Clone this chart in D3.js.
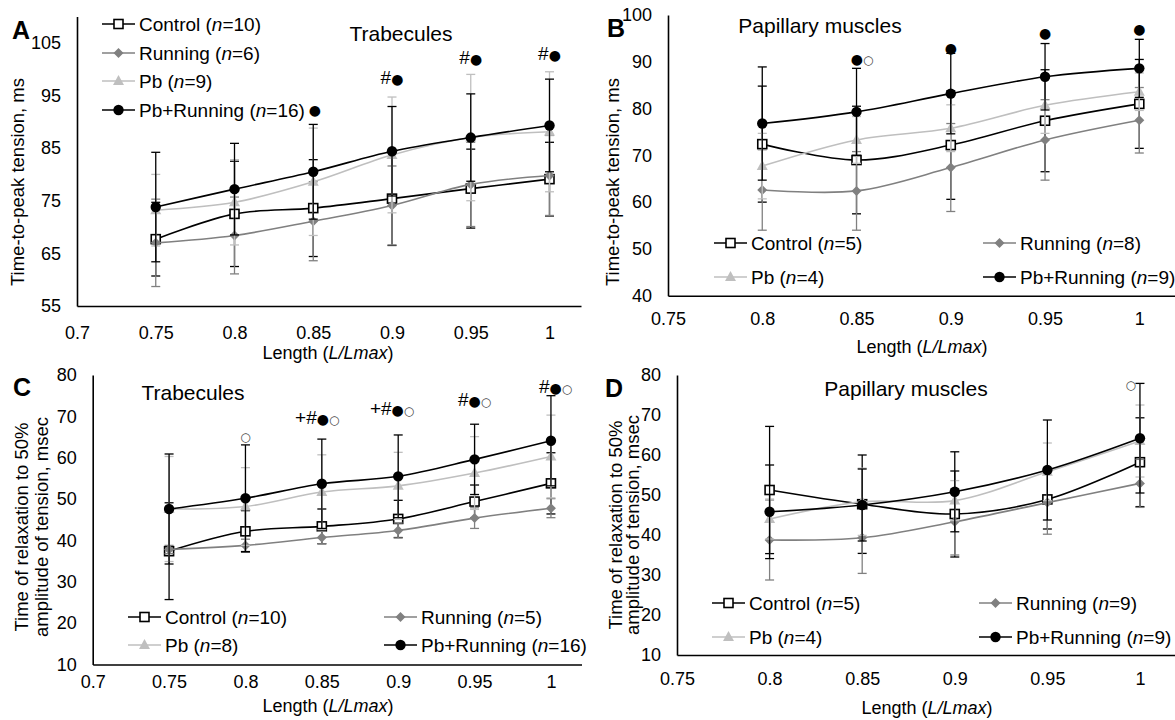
<!DOCTYPE html>
<html>
<head>
<meta charset="utf-8">
<script src="https://cdnjs.cloudflare.com/ajax/libs/d3/7.8.5/d3.min.js"></script>
<style>
  body { margin: 0; background: #fff; }
  text { font-family: "Liberation Sans", Arial, sans-serif; fill: #000; }
</style>
</head>
<body>
<script>
// ---- data ----
const lengthsTrab = [0.75, 0.8, 0.85, 0.9, 0.95, 1];
const lengthsPap = [0.8, 0.85, 0.9, 0.95, 1];
const trabXTicks = [0.7, 0.75, 0.8, 0.85, 0.9, 0.95, 1];
const papXTicks = [0.75, 0.8, 0.85, 0.9, 0.95, 1];
const aYTicks = [55, 65, 75, 85, 95, 105];
const bYTicks = [40, 50, 60, 70, 80, 90, 100];
const cdYTicks = [10, 20, 30, 40, 50, 60, 70, 80];

const groupNames = ["Control", "Running", "Pb", "Pb+Running"];

// A: time-to-peak tension, trabecules
const aN = [10, 6, 9, 16];
const aControl = [67.7, 72.5, 73.6, 75.4, 77.3, 79.1];
const aControlErr = [7.0, 10.0, 9.2, 8.9, 7.5, 7.0];
const aRunning = [67.0, 68.4, 71.1, 74.1, 78.1, 79.8];
const aRunningErr = [8.3, 7.3, 7.5, 7.5, 8.0, 7.6];
const aPb = [73.2, 74.7, 78.6, 83.7, 87.0, 88.1];
const aPbErr = [6.8, 8.1, 10.2, 11.0, 12.0, 11.4];
const aPbRun = [73.8, 77.2, 80.5, 84.4, 87.0, 89.3];
const aPbRunErr = [10.4, 8.7, 9.0, 8.5, 8.3, 8.8];
const aMarks = [[0.851, 92.6, "●"], [0.9, 98.5, "#●"], [0.95, 102.2, "#●"], [1, 103, "#●"]];

// B: time-to-peak tension, papillary muscles
const bN = [5, 8, 4, 9];
const bControl = [72.4, 69.0, 72.2, 77.4, 81.0];
const bControlErr = [12.4, 11.5, 11.6, 10.9, 9.5];
const bRunning = [62.6, 62.4, 67.4, 73.3, 77.5];
const bRunningErr = [8.6, 8.4, 9.4, 8.6, 7.0];
const bPb = [67.7, 73.3, 75.8, 80.7, 83.6];
const bPbErr = [7.0, 5.0, 5.0, 6.0, 4.0];
const bPbRun = [76.8, 79.3, 83.2, 86.8, 88.6];
const bPbRunErr = [12.1, 9.3, 8.6, 7.1, 6.2];
const bMarks = [[0.853, 90.9, "●○"], [0.9, 93.4, "●"], [0.95, 96.6, "●"], [1, 97.5, "●"]];

// C: relaxation to 50%, trabecules
const cN = [10, 5, 8, 16];
const cControl = [37.4, 42.2, 43.4, 45.2, 49.4, 53.8];
const cControlErr = [11.7, 5.0, 4.2, 4.5, 4.0, 7.4];
const cRunning = [37.8, 38.8, 40.7, 42.4, 45.4, 47.8];
const cRunningErr = [1.0, 1.5, 1.5, 1.8, 2.5, 2.3];
const cPb = [47.6, 48.2, 51.7, 53.2, 56.3, 60.3];
const cPbErr = [12.7, 9.4, 9.0, 8.1, 8.8, 10.0];
const cPbRun = [47.6, 50.2, 53.7, 55.5, 59.6, 64.1];
const cPbRunErr = [13.3, 12.9, 10.8, 10.0, 8.5, 10.9];
const cMarks = [[0.8, 65.8, "○"], [0.847, 69.9, "+#●○"], [0.896, 71.9, "+#●○"], [0.95, 74.2, "#●○"], [1.003, 77.4, "#●○"]];

// D: relaxation to 50%, papillary muscles
const dN = [5, 9, 4, 9];
const dControl = [51.25, 47.7, 45.25, 48.9, 58.2];
const dControlErr = [15.9, 12.3, 10.75, 7.4, 11.1];
const dRunning = [38.75, 39.3, 43.3, 48.1, 52.9];
const dRunningErr = [10.0, 8.9, 8.3, 7.9, 6.0];
const dPb = [44.0, 48.3, 48.6, 55.8, 63.5];
const dPbErr = [5.0, 8.4, 5.0, 7.2, 9.0];
const dPbRun = [45.8, 47.5, 50.8, 56.25, 64.2];
const dPbRunErr = [11.7, 9.0, 10.0, 12.5, 13.7];
const dMarks = [[0.995, 78.3, "○"]];

// ---- styles ----
const seriesStyle = [
  { color: "#000", fill: "#fff", shape: "square" },
  { color: "#808080", fill: "#808080", shape: "diamond" },
  { color: "#bfbfbf", fill: "#bfbfbf", shape: "triangle" },
  { color: "#000", fill: "#000", shape: "circle" }
];

const panels = [
  { letter: "A", letterPos: [21, 30], title: "Trabecules", titlePos: [401, 33],
    xs: lengthsTrab, xDomain: [0.7, 1.02], xRange: [77, 581], xTicks: trabXTicks, xPad: 20,
    yDomain: [55, 110], yRange: [306, 16.5], yTicks: aYTicks,
    yTitle: ["Time-to-peak tension, ms"], yTitleX: [17], yTitleY: 182, xTitlePos: [328, 353],
    n: aN, means: [aControl, aRunning, aPb, aPbRun], errs: [aControlErr, aRunningErr, aPbErr, aPbRunErr],
    legend: [[102, 24], [102, 53], [102, 81], [102, 110]], marks: aMarks },
  { letter: "B", letterPos: [616, 28], title: "Papillary muscles", titlePos: [820, 25],
    xs: lengthsPap, xDomain: [0.75, 1.02], xRange: [668, 1177], xTicks: papXTicks, xPad: 17,
    yDomain: [40, 100], yRange: [295.7, 15], yTicks: bYTicks,
    yTitle: ["Time-to-peak tension, ms"], yTitleX: [612], yTitleY: 182, xTitlePos: [922, 347],
    n: bN, means: [bControl, bRunning, bPb, bPbRun], errs: [bControlErr, bRunningErr, bPbErr, bPbRunErr],
    legend: [[714, 243], [983, 243], [714, 277], [983, 277]], marks: bMarks },
  { letter: "C", letterPos: [22, 387], title: "Trabecules", titlePos: [193, 392],
    xs: lengthsTrab, xDomain: [0.7, 1.02], xRange: [92.7, 581.5], xTicks: trabXTicks, xPad: 11,
    yDomain: [10, 80], yRange: [664.5, 375], yTicks: cdYTicks,
    yTitle: ["Time of relaxation to 50%", "amplitude  of tension, msec"], yTitleX: [21, 41], yTitleY: 527, xTitlePos: [328, 706],
    n: cN, means: [cControl, cRunning, cPb, cPbRun], errs: [cControlErr, cRunningErr, cPbErr, cPbRunErr],
    legend: [[128, 617], [384, 617], [128, 645], [384, 645]], marks: cMarks },
  { letter: "D", letterPos: [614, 388], title: "Papillary muscles", titlePos: [906, 388],
    xs: lengthsPap, xDomain: [0.75, 1.02], xRange: [677, 1177], xTicks: papXTicks, xPad: 17,
    yDomain: [10, 80], yRange: [655, 375], yTicks: cdYTicks,
    yTitle: ["Time of relaxation to 50%", "amplitude  of tension, msec"], yTitleX: [615, 632], yTitleY: 525, xTitlePos: [927, 708],
    n: dN, means: [dControl, dRunning, dPb, dPbRun], errs: [dControlErr, dRunningErr, dPbErr, dPbRunErr],
    legend: [[712, 603], [979, 603], [712, 637], [979, 637]], marks: dMarks }
];

const svg = d3.select("body").append("svg")
  .attr("width", 1175).attr("height", 720);

function drawMarker(g, st, x, y) {
  if (st.shape === "square") {
    g.append("rect").attr("x", x - 4.5).attr("y", y - 4.5).attr("width", 9).attr("height", 9)
      .attr("fill", st.fill).attr("stroke", st.color).attr("stroke-width", 1.6);
  } else if (st.shape === "diamond") {
    g.append("path").attr("d", `M${x},${y - 5}L${x + 5},${y}L${x},${y + 5}L${x - 5},${y}Z`)
      .attr("fill", st.fill);
  } else if (st.shape === "triangle") {
    g.append("path").attr("d", `M${x},${y - 6}L${x + 5.5},${y + 4}L${x - 5.5},${y + 4}Z`)
      .attr("fill", st.fill);
  } else {
    g.append("circle").attr("cx", x).attr("cy", y).attr("r", 5.2).attr("fill", st.fill);
  }
}

panels.forEach(p => {
  const g = svg.append("g");
  const x = d3.scaleLinear().domain(p.xDomain).range(p.xRange);
  const y = d3.scaleLinear().domain(p.yDomain).range(p.yRange);

  // axes
  const xAxis = g.append("g")
    .attr("transform", `translate(0,${p.yRange[0]})`)
    .call(d3.axisBottom(x).tickValues(p.xTicks).tickFormat(d => String(d))
      .tickSize(0).tickPadding(p.xPad));
  const yAxis = g.append("g")
    .attr("transform", `translate(${p.xRange[0]},0)`)
    .call(d3.axisLeft(y).tickValues(p.yTicks).tickSize(0).tickPadding(16));
  [xAxis, yAxis].forEach(a => {
    a.select(".domain").attr("stroke", "#000").attr("stroke-width", 1.6);
    a.selectAll("text").attr("font-size", 18).attr("fill", "#000")
      .style("font-family", '"Liberation Sans", Arial, sans-serif');
  });

  // series
  const line = d3.line().curve(d3.curveCatmullRom.alpha(0.5))
    .x(d => x(d[0])).y(d => y(d[1]));
  p.means.forEach((vals, si) => {
    const st = seriesStyle[si];
    const sg = g.append("g");
    const pts = p.xs.map((xv, i) => [xv, vals[i]]);
    // error bars
    p.xs.forEach((xv, i) => {
      const e = p.errs[si][i];
      const cx = x(xv), y1 = y(vals[i] + e), y2 = y(vals[i] - e);
      sg.append("line").attr("x1", cx).attr("x2", cx).attr("y1", y1).attr("y2", y2)
        .attr("stroke", st.color).attr("stroke-width", 1.3);
      [y1, y2].forEach(yy => sg.append("line").attr("x1", cx - 4.5).attr("x2", cx + 4.5)
        .attr("y1", yy).attr("y2", yy).attr("stroke", st.color).attr("stroke-width", 1.3));
    });
    sg.append("path").attr("d", line(pts)).attr("fill", "none")
      .attr("stroke", st.color).attr("stroke-width", 1.6);
    pts.forEach(d => drawMarker(sg, st, x(d[0]), y(d[1])));
  });

  // legend
  p.legend.forEach((pos, si) => {
    const st = seriesStyle[si];
    const lg = g.append("g");
    lg.append("line").attr("x1", pos[0]).attr("x2", pos[0] + 33)
      .attr("y1", pos[1]).attr("y2", pos[1]).attr("stroke", st.color).attr("stroke-width", 1.6);
    drawMarker(lg, st, pos[0] + 16.5, pos[1]);
    const t = lg.append("text").attr("x", pos[0] + 37).attr("y", pos[1])
      .attr("dy", "0.36em").attr("font-size", 19);
    t.append("tspan").text(groupNames[si] + " (");
    t.append("tspan").attr("font-style", "italic").text("n");
    t.append("tspan").text("=" + p.n[si] + ")");
  });

  // significance marks
  p.marks.forEach(m => {
    const t = g.append("text").attr("x", x(m[0])).attr("y", y(m[1]))
      .attr("dy", "0.36em").attr("text-anchor", "middle").attr("font-size", 19);
    Array.from(m[2]).forEach(ch => {
      const s = t.append("tspan").text(ch);
      if (ch === "●") s.style("font-family", "DejaVu Sans").attr("font-size", 14);
      if (ch === "○") s.style("font-family", "DejaVu Sans").attr("font-size", 12).attr("fill", "#444");
    });
  });

  // titles
  g.append("text").attr("x", p.titlePos[0]).attr("y", p.titlePos[1]).attr("dy", "0.36em")
    .attr("text-anchor", "middle").attr("font-size", 21).text(p.title);
  g.append("text").attr("x", p.letterPos[0]).attr("y", p.letterPos[1]).attr("dy", "0.36em")
    .attr("text-anchor", "middle").attr("font-size", 25).attr("font-weight", "bold").text(p.letter);
  p.yTitle.forEach((s, k) => {
    g.append("text")
      .attr("transform", `translate(${p.yTitleX[k]},${p.yTitleY}) rotate(-90)`)
      .attr("dy", "0.36em").attr("text-anchor", "middle").attr("font-size", 18.5).text(s);
  });
  const xt = g.append("text").attr("x", p.xTitlePos[0]).attr("y", p.xTitlePos[1])
    .attr("dy", "0.36em").attr("text-anchor", "middle").attr("font-size", 18);
  xt.append("tspan").text("Length (");
  xt.append("tspan").attr("font-style", "italic").text("L/Lmax");
  xt.append("tspan").text(")");
});
</script>
</body>
</html>
